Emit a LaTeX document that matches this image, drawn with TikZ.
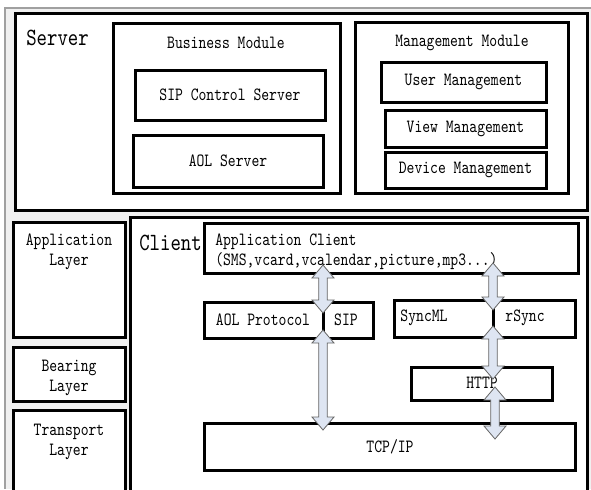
\documentclass[tikz,border=0pt]{standalone}
\usepackage{fontspec}
\newfontfamily\condmono[FakeStretch=0.8]{lmmono10-regular.otf}
\usetikzlibrary{calc}
\definecolor{arrowfill}{HTML}{DEE5F2}
\definecolor{bgfill}{HTML}{F0F0F0}
\definecolor{bgline}{HTML}{A0A0A0}
\tikzset{
  frame/.style={draw=black, line width=2.25pt, fill=white, inner sep=0pt, outer sep=0pt},
  txt/.style={font=\condmono\fontsize{14}{15}\selectfont, inner sep=0pt, align=center},
  bigtxt/.style={font=\condmono\fontsize{18.6}{20}\selectfont, inner sep=0pt},
  arr/.style={draw=black!60, line width=0.6pt, fill=arrowfill, line join=miter},
  divider/.style={draw=black, line width=2.25pt}
}
\newcommand\mybox[5]{%
  \node[frame, minimum width={(#4-#2)*0.75pt}, minimum height={(#5-#3)*0.75pt}]
    (#1) at ({(#2+#4)/2},{(#3+#5)/2}) {};}
\newcommand\dblarrow[2]{%
  \filldraw[arr] (#1) -- ($(#1)+(11,13)$) -- ($(#1)+(4.3,13)$) -- ($(#2)+(4.3,-13)$)
    -- ($(#2)+(11,-13)$) -- (#2) -- ($(#2)+(-11,-13)$) -- ($(#2)+(-4.3,-13)$)
    -- ($(#1)+(-4.3,13)$) -- ($(#1)+(-11,13)$) -- cycle;}
\begin{document}
\begin{tikzpicture}[x=0.75pt,y=-0.75pt]
\useasboundingbox (0,0) rectangle (591,489);
% background frame
\fill[bgfill] (5,8) rectangle (591,489);
\draw[bgline, line width=0.9pt] (5,489) -- (5,8) -- (591,8);

% ---------- Server ----------
\mybox{server}{15}{13}{587}{210}
\node[bigtxt, anchor=west] (servertxt) at (26,38) {Server};

\mybox{business}{113}{23}{340}{193}
\node[txt] (businesstxt) at (226,43) {Business Module};
\mybox{sipctl}{135}{70}{325}{120}
\node[txt] (sipctltxt) at (sipctl) {SIP Control Server};
\mybox{aolsrv}{133}{135}{323}{187}
\node[txt] (aolsrvtxt) at (aolsrv) {AOL Server};

\mybox{mgmt}{355}{22}{568}{193}
\node[txt] (mgmttxt) at (462,43) {Management Module};
\mybox{user}{381}{62}{546}{102}
\node[txt] (usertxt) at (user) {User Management};
\mybox{view}{385}{110}{546}{147}
\node[txt] (viewtxt) at (view) {View Management};
\mybox{device}{385}{152}{546}{188}
\node[txt] (devicetxt) at (device) {Device Management};

% ---------- Layers ----------
\mybox{applayer}{13}{222}{125}{337}
\node[txt] (applayertxt) at (69,252) {Application\\Layer};
\mybox{bearing}{13}{347}{125}{401}
\node[txt] (bearingtxt) at (69,378) {Bearing\\Layer};
\mybox{transport}{13}{410}{125}{496}
\node[txt] (transporttxt) at (69,442) {Transport\\Layer};

% ---------- Client ----------
\mybox{client}{130}{217}{587}{496}
\node[bigtxt, anchor=west] (clienttxt) at (139,243) {Client};

\mybox{appclient}{204}{223}{578}{273}
\node[txt, align=left, anchor=west] (appclienttxt) at (215,252)
  {Application Client\\(SMS,vcard,vcalendar,picture,mp3...)};

\mybox{aolsip}{204}{302}{373}{338}
\coordinate (d1) at (323,0);
\draw[divider] (aolsip.north -| d1) -- (aolsip.south -| d1);
\node[txt] (aoltxt) at (263,320) {AOL Protocol};
\node[txt] (siptxt) at (346,320) {SIP};

\mybox{sync}{394}{300}{575}{337}
\coordinate (d2) at (493,0);
\draw[divider] (sync.north -| d2) -- (sync.south -| d2);
\node[txt] (syncmltxt) at (424,318) {SyncML};
\node[txt] (rsynctxt) at (525,318) {rSync};

\mybox{http}{411}{367}{552}{400}
\node[txt] (httptxt) at (482,383) {HTTP};

\mybox{tcpip}{204}{423}{575}{470}
\node[txt] (tcpiptxt) at (390,447) {TCP/IP};

% ---------- Arrows ----------
\coordinate (a1t) at (323,265); \coordinate (a1b) at (323,313);
\coordinate (a2t) at (323,330); \coordinate (a2b) at (323,430);
\coordinate (a3t) at (493,263); \coordinate (a3b) at (493,310);
\coordinate (a4t) at (493,326); \coordinate (a4b) at (493,379);
\coordinate (a5t) at (495,387); \coordinate (a5b) at (495,439);
\dblarrow{a1t}{a1b}
\dblarrow{a2t}{a2b}
\dblarrow{a3t}{a3b}
\dblarrow{a4t}{a4b}
\dblarrow{a5t}{a5b}
\end{tikzpicture}
\end{document}
